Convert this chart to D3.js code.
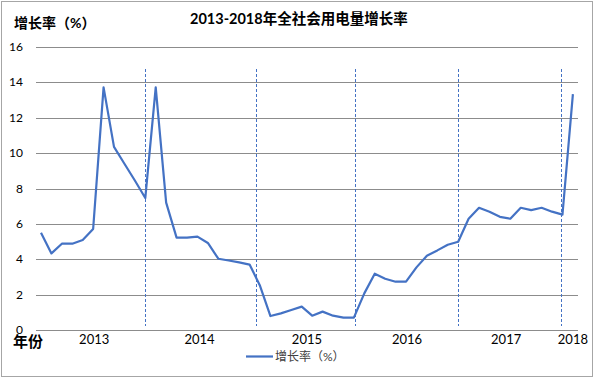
<!DOCTYPE html>
<html>
<head>
<meta charset="utf-8">
<script src="https://cdn.jsdelivr.net/npm/d3@7"></script>
<style>
  body { margin: 0; background: #fff; }
  svg { display: block; font-family: Lato, "Noto Sans CJK SC", sans-serif; }
</style>
</head>
<body>
<div id="chart"></div>
<script>
// monthly growth rate (%), 52 points from early 2013 to early 2018
const growth = [5.5, 4.33, 4.88, 4.88, 5.09, 5.71, 13.72, 10.35, 9.4, 8.45, 7.46,
  13.72, 7.2, 5.22, 5.22, 5.28, 4.92, 4.03, 3.93, 3.82, 3.7,
  2.5, 0.79, 0.94, 1.13, 1.32, 0.81, 1.04, 0.81, 0.7, 0.7,
  2.07, 3.18, 2.9, 2.73, 2.73, 3.54, 4.2, 4.5, 4.82, 4.99,
  6.29, 6.91, 6.69, 6.4, 6.29, 6.91, 6.78, 6.91, 6.69, 6.52, 13.34];
const years = ["2013", "2014", "2015", "2016", "2017", "2018"];
const yearPos = [5.1, 15.2, 25.5, 35.1, 44.6, 51];      // label position, in point index units
const yearBreaks = [10, 20.65, 30.15, 40, 49.9];       // dashed separators, index units
const yTicks = [0, 2, 4, 6, 8, 10, 12, 14, 16];

const W = 595, H = 379;
const blue = "#4472C4";

const svg = d3.select("#chart").append("svg")
  .attr("width", W).attr("height", H);

// outer frame
svg.append("rect")
  .attr("x", 1.5).attr("y", 1.5)
  .attr("width", 591).attr("height", 375)
  .attr("fill", "#fff").attr("stroke", "#a6a6a6");

const x = d3.scaleLinear().domain([0, growth.length - 1]).range([41, 572.9]);
const y = d3.scaleLinear().domain([0, 16]).range([330, 47]);

// horizontal grid
svg.append("g").selectAll("line")
  .data(yTicks)
  .enter().append("line")
    .attr("x1", 36).attr("x2", 578)
    .attr("y1", d => Math.round(y(d)) + 0.5)
    .attr("y2", d => Math.round(y(d)) + 0.5)
    .attr("stroke", "#8c8c8c").attr("stroke-width", 1);

// y tick labels
svg.append("g").selectAll("text")
  .data(yTicks)
  .enter().append("text")
    .attr("x", 23)
    .attr("y", d => y(d) + 4)
    .attr("text-anchor", "end")
    .attr("font-size", 12)
    .attr("fill", "#000")
    .text(d => d);

// year separators
svg.append("g").selectAll("line")
  .data(yearBreaks)
  .enter().append("line")
    .attr("x1", d => Math.round(x(d)) + 0.5)
    .attr("x2", d => Math.round(x(d)) + 0.5)
    .attr("y1", 69).attr("y2", 326)
    .attr("stroke", blue).attr("stroke-width", 1)
    .attr("stroke-dasharray", "3,2");

// series line
const line = d3.line()
  .x((d, i) => x(i))
  .y(d => y(d));
svg.append("path")
  .datum(growth)
  .attr("d", line)
  .attr("fill", "none")
  .attr("stroke", blue)
  .attr("stroke-width", 2.2)
  .attr("stroke-linejoin", "round");

// year labels
svg.append("g").selectAll("text")
  .data(years)
  .enter().append("text")
    .attr("x", (d, i) => x(yearPos[i]))
    .attr("y", 344)
    .attr("text-anchor", "middle")
    .attr("font-size", 13)
    .attr("fill", "#000")
    .text(d => d);

// axis titles
svg.append("text")
  .attr("x", 13).attr("y", 347)
  .attr("font-size", 15).attr("font-weight", "bold")
  .text("年份");
svg.append("text")
  .attr("x", 14).attr("y", 28)
  .attr("font-size", 14).attr("font-weight", "bold")
  .text("增长率（%）");

// chart title
svg.append("text")
  .attr("x", 190).attr("y", 24)
  .attr("font-size", 14.5).attr("font-weight", "bold")
  .text("2013-2018年全社会用电量增长率");

// legend
svg.append("line")
  .attr("x1", 246).attr("x2", 273)
  .attr("y1", 356.5).attr("y2", 356.5)
  .attr("stroke", blue).attr("stroke-width", 2.2);
svg.append("text")
  .attr("x", 275).attr("y", 361)
  .attr("font-size", 12).attr("fill", "#404040")
  .text("增长率（%）");
</script>
</body>
</html>
